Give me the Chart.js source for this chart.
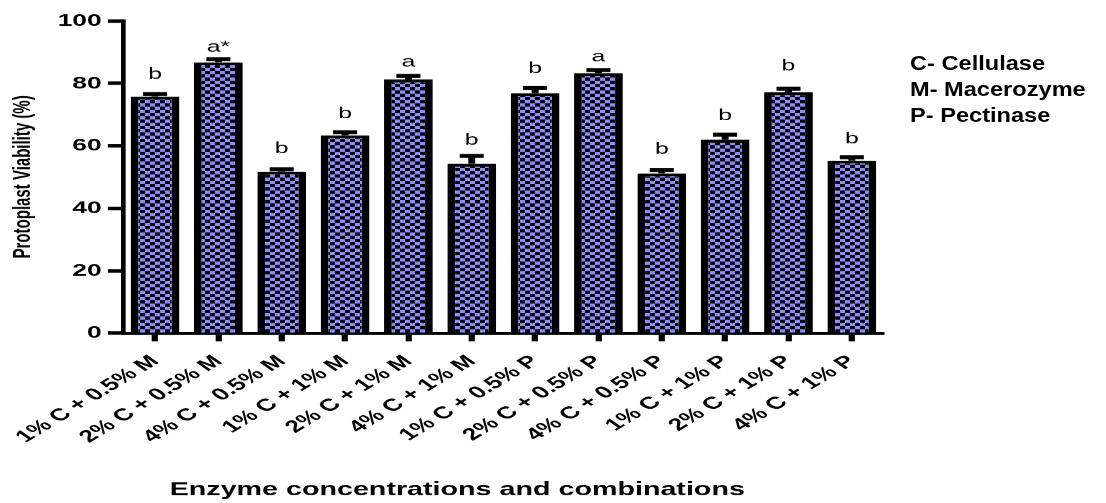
<!DOCTYPE html>
<html>
<head>
<meta charset="utf-8">
<script src="https://cdn.jsdelivr.net/npm/chart.js@4.4.1/dist/chart.umd.min.js"></script>
<style>
  html, body { margin: 0; padding: 0; background: #fff; width: 1106px; height: 503px; overflow: hidden; }
  /* the plot is laid out narrow and widened horizontally */
  #plot { position: absolute; left: 0; top: 0; width: 714px; height: 503px; transform: scaleX(1.549); transform-origin: 0 0; }
  #key { position: absolute; left: 910px; top: 50px; font: bold 20px Arial, "Liberation Sans", sans-serif; line-height: 26px; color: #000; transform: scaleX(1.18); transform-origin: 0 0; white-space: nowrap; }
</style>
</head>
<body>
<div id="plot"><canvas id="c" width="714" height="503"></canvas></div>
<div id="key">
  <div>C- Cellulase</div>
  <div>M- Macerozyme</div>
  <div>P- Pectinase</div>
</div>
<script>
// Enzyme treatments
const categories = [
  '1% C + 0.5% M', '2% C + 0.5% M', '4% C + 0.5% M',
  '1% C + 1% M',   '2% C + 1% M',   '4% C + 1% M',
  '1% C + 0.5% P', '2% C + 0.5% P', '4% C + 0.5% P',
  '1% C + 1% P',   '2% C + 1% P',   '4% C + 1% P'
];
// Mean protoplast viability (%)
const viability = [75.8, 86.8, 51.8, 63.4, 81.3, 54.3, 76.9, 83.3, 51.2, 62.0, 77.2, 55.3];
// Standard error of the mean
const sem = [0.8, 1.0, 0.7, 1.0, 1.1, 2.5, 1.7, 1.0, 1.1, 1.6, 1.1, 1.1];
// Significance groups
const letters = ['b', 'a*', 'b', 'b', 'a', 'b', 'b', 'a', 'b', 'b', 'b', 'b'];
// Y axis ticks
const yTicks = [0, 20, 40, 60, 80, 100];

const DPR = 1.55;
const FONT = 'Arial, "Liberation Sans", sans-serif';
Chart.defaults.font.family = FONT;
Chart.defaults.color = '#000';

const canvas = document.getElementById('c');
const ctx = canvas.getContext('2d');

// blue / black checkerboard fill, cells aligned to device pixels
function checkerFill() {
  const cell = 5;
  const tile = document.createElement('canvas');
  tile.width = tile.height = cell * 2;
  const g = tile.getContext('2d');
  g.fillStyle = '#8c8cff';
  g.fillRect(0, 0, cell * 2, cell * 2);
  g.fillStyle = '#000';
  g.fillRect(cell, 0, cell, cell);
  g.fillRect(0, cell, cell, cell);
  const p = ctx.createPattern(tile, 'repeat');
  p.setTransform(new DOMMatrix().scale(1 / DPR));
  return p;
}

// error bars, group letters and axis titles
const annotations = {
  id: 'annotations',
  afterDatasetsDraw(chart, args, opts) {
    const c = chart.ctx;
    const y = chart.scales.y;
    const bars = chart.getDatasetMeta(0).data;
    c.save();
    c.strokeStyle = '#000';
    c.fillStyle = '#000';
    bars.forEach((bar, i) => {
      const yBase = y.getPixelForValue(viability[i]);
      const yTop = y.getPixelForValue(viability[i] + sem[i]);
      c.lineCap = 'butt';
      c.lineWidth = 4.5;
      c.beginPath(); c.moveTo(bar.x, yBase); c.lineTo(bar.x, yTop); c.stroke();
      c.lineWidth = 4;
      c.beginPath(); c.moveTo(bar.x - 7.75, yTop); c.lineTo(bar.x + 7.75, yTop); c.stroke();
      c.font = '16px ' + FONT;
      c.textAlign = 'center';
      c.textBaseline = 'alphabetic';
      c.fillText(letters[i], bar.x, yTop - 2 - opts.letterGap[i]);
    });
    // axis titles
    c.font = 'bold 18.5px ' + FONT;
    c.textAlign = 'center';
    c.textBaseline = 'alphabetic';
    c.fillText('Enzyme concentrations and combinations', 295, 495);
    c.translate(14.9, 176.7);
    c.rotate(-Math.PI / 2);
    c.font = 'bold 15px ' + FONT;
    c.textBaseline = 'middle';
    c.fillText('Protoplast Viability (%)', 0, 0);
    c.restore();
  }
};

new Chart(ctx, {
  type: 'bar',
  data: {
    labels: categories,
    datasets: [{
      data: viability,
      backgroundColor: checkerFill(),
      borderColor: '#000',
      borderWidth: { left: 5, right: 5, top: 3, bottom: 0 },
      borderSkipped: 'start',
      barPercentage: 0.77,
      categoryPercentage: 1
    }]
  },
  options: {
    responsive: false,
    devicePixelRatio: DPR,
    animation: false,
    layout: { padding: { top: 21, right: 144, left: 0, bottom: 0 } },
    plugins: {
      legend: { display: false },
      tooltip: { enabled: false },
      annotations: { letterGap: [13.4, 5.6, 14.3, 11.7, 7.6, 9, 12.7, 6.6, 14.3, 12.7, 16.7, 11.7] }
    },
    scales: {
      x: {
        type: 'category',
        offset: true,
        grid: { display: true, offset: false, drawOnChartArea: false, drawTicks: true, tickLength: 8, tickWidth: 4, tickColor: '#000' },
        border: { display: true, color: '#000', width: 3 },
        ticks: { autoSkip: false, minRotation: 43, maxRotation: 43, padding: 10, color: '#000', font: { size: 17, weight: 'bold' } },
        afterFit(s) { s.height = 170; }
      },
      y: {
        min: 0,
        max: 100,
        afterBuildTicks(s) { s.ticks = yTicks.map(v => ({ value: v })); },
        grid: { drawOnChartArea: false, drawTicks: true, tickLength: 10, tickWidth: 3.5, tickColor: '#000' },
        border: { display: true, color: '#000', width: 3 },
        ticks: { padding: 4, color: '#000', font: { size: 17, weight: 'bold' } },
        afterFit(s) { s.width = 79.4; }
      }
    }
  },
  plugins: [annotations]
});
</script>
</body>
</html>
